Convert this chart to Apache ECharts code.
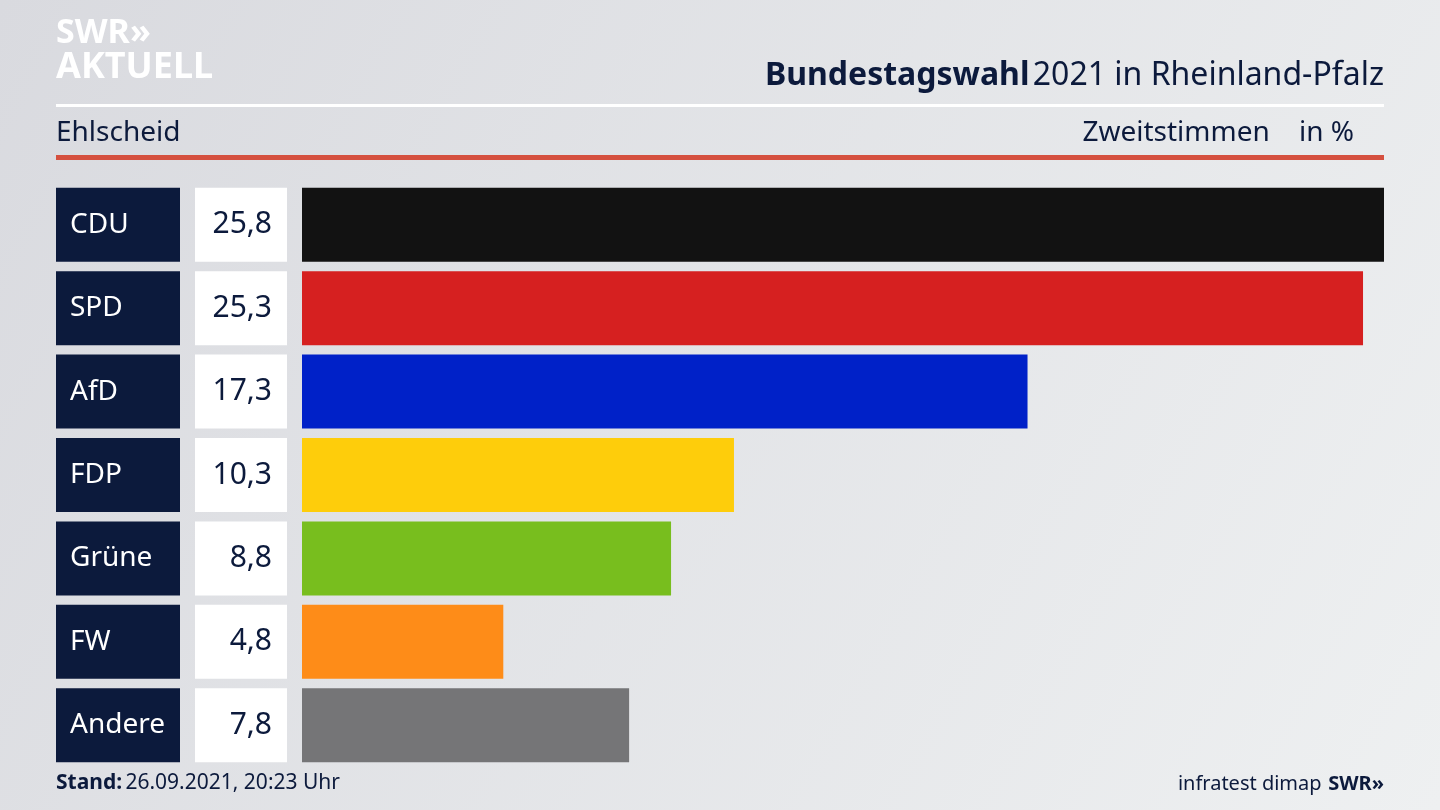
<!DOCTYPE html>
<html><head><meta charset="utf-8">
<script src="https://cdn.jsdelivr.net/npm/echarts@6/dist/echarts.min.js"></script>
<style>html,body{margin:0;padding:0}#c{width:1440px;height:810px}</style>
</head><body><div id="c"></div>
<script>
const parties = ["CDU", "SPD", "AfD", "FDP", "Grüne", "FW", "Andere"];
const values = [25.8, 25.3, 17.3, 10.3, 8.8, 4.8, 7.8];
const colors = ["#121212", "#d62020", "#0021c8", "#fecd0b", "#78be1e", "#fe8c18", "#757577"];

const font = "Noto Sans";
const chart = echarts.init(document.getElementById("c"));
chart.setOption({
	backgroundColor: {type: "linear", x: 0, y: 0, x2: 1, y2: 1,
		colorStops: [{offset: 0, color: "#d9dadf"}, {offset: 1, color: "#eef0f1"}]},
	textStyle: {fontFamily: font},
	grid: {left: 302, right: 56, top: 183, bottom: 43},
	xAxis: {type: "value", min: 0, max: 25.8, show: false},
	yAxis: [
		{type: "category", data: parties, inverse: true,
			axisLine: {show: false}, axisTick: {show: false},
			axisLabel: {margin: 122, formatter: v => "{a|" + v + "}",
				rich: {a: {width: 110, height: 74, lineHeight: 74, padding: [0, 0, 0, 14],
					backgroundColor: "#0c1a3c", color: "#fff", fontSize: 28, fontFamily: font, align: "left"}}}},
		{type: "category", data: values.map(v => v.toFixed(1).replace(".", ",")), inverse: true,
			position: "left", axisLine: {show: false}, axisTick: {show: false},
			axisLabel: {margin: 15, formatter: v => "{b|" + v + "}",
				rich: {b: {width: 77, height: 74, lineHeight: 74, padding: [0, 15, 0, 0],
					backgroundColor: "#fff", color: "#0c1a3c", fontSize: 30, fontFamily: font, align: "right"}}}}
	],
	series: [{type: "bar", barWidth: 74, silent: true,
		data: values.map((v, i) => ({value: v, itemStyle: {color: colors[i]}}))}],
	graphic: [
		{type: "text", left: 56, top: 16, style: {text: "SWR»", fill: "#fff", font: "bold 34px " + font}},
		{type: "text", left: 56, top: 50, style: {text: "AKTUELL", fill: "#fff", font: "bold 36px " + font}},
		{type: "text", right: 56, top: 60, style: {rich: {
			a: {fontSize: 32, fontWeight: "bold", fill: "#0c1a3c", fontFamily: font},
			b: {fontSize: 32, fill: "#0c1a3c", fontFamily: font}},
			text: "{a|Bundestagswahl} {b|2021 in Rheinland-Pfalz}"}},
		{type: "rect", shape: {x: 56, y: 104, width: 1328, height: 3}, style: {fill: "#fff"}},
		{type: "text", left: 56, top: 119, style: {text: "Ehlscheid", fill: "#0c1a3c", font: "28px " + font}},
		{type: "text", right: 86, top: 119, style: {text: "Zweitstimmen    in %", fill: "#0c1a3c", font: "28px " + font}},
		{type: "rect", shape: {x: 56, y: 155, width: 1328, height: 5}, style: {fill: "#d5503f"}},
		{type: "text", left: 56, top: 773, style: {rich: {
			a: {fontSize: 21, fontWeight: "bold", fill: "#0c1a3c", fontFamily: font},
			b: {fontSize: 21, fill: "#0c1a3c", fontFamily: font}},
			text: "{a|Stand:} {b|26.09.2021, 20:23 Uhr}"}},
		{type: "text", right: 56, top: 774, style: {rich: {
			a: {fontSize: 20, fill: "#0c1a3c", fontFamily: font},
			b: {fontSize: 20, fontWeight: "bold", fill: "#0c1a3c", fontFamily: font}},
			text: "{a|infratest dimap}  {b|SWR»}"}}
	]
});
</script></body></html>
